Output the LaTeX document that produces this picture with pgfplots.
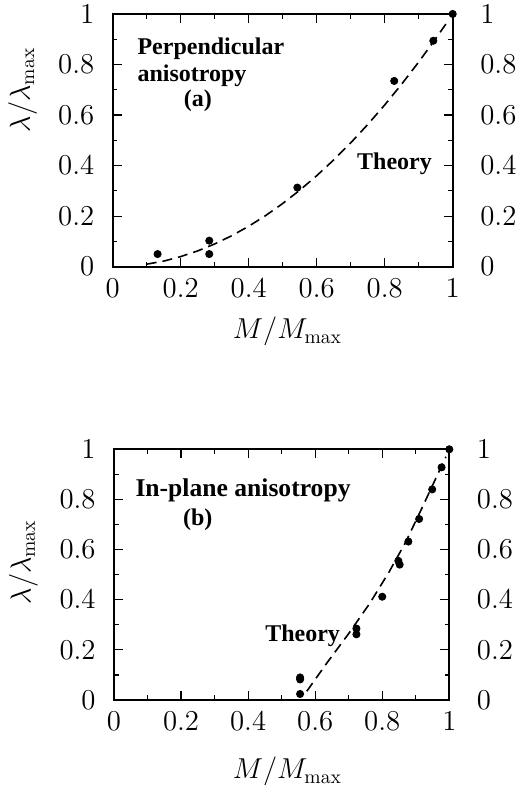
\documentclass[border=0pt]{standalone}
\usepackage{pgfplots}
\pgfplotsset{compat=1.18}
\usepackage{fontspec}
\newfontfamily\timesfont{Liberation Serif}
\tikzset{txt/.style={font=\timesfont\bfseries\fontsize{12}{14}\selectfont, inner sep=0pt}}
\begin{document}
\begin{tikzpicture}
\useasboundingbox (0,0) rectangle (260pt,395.5pt);
\pgfplotsset{
  panel/.style={
    scale only axis, xmin=0, xmax=1, ymin=0, ymax=1,
    xtick={0,0.2,0.4,0.6,0.8,1}, ytick={0,0.2,0.4,0.6,0.8,1},
    minor x tick num=1, minor y tick num=1,
    tick align=inside, major tick length=4.5pt, minor tick length=2.3pt,
    axis line style={line width=0.9pt},
    every tick/.style={black, line width=0.6pt},
    ticklabel style={font=\fontsize{14}{16}\selectfont},
    xticklabel style={yshift=-2.5pt},
    clip=false,
  },
  leftpanel/.style={panel,
    yticklabel style={xshift=-5.7pt},
    ylabel={$\lambda/\lambda_{\mathrm{max}}$},
    label style={font=\fontsize{14}{16}\selectfont},
    xlabel={$M/M_{\mathrm{max}}$},
  },
  rightpanel/.style={panel,
    yticklabel pos=right,
    xticklabels={},
    yticklabel style={xshift=10.3pt},
  },
  theory/.style={black, line width=0.8pt, dash pattern=on 5pt off 3pt, mark=none},
  pts/.style={only marks, mark=*, mark size=1.8pt, black},
}
% ---------- Panel (a) ----------
\begin{axis}[leftpanel, at={(56.35pt,262.15pt)}, anchor=south west,
  width=170pt, height=126.35pt,
  ylabel style={at={(axis description cs:-0.265,0.70)}, anchor=center},
  xlabel style={at={(axis description cs:0.514,-0.257)}, anchor=center}]
\addplot[theory] coordinates {(0.10,0.01) (0.15,0.022) (0.2,0.04) (0.25,0.0625) (0.3,0.09) (0.35,0.1225) (0.4,0.16) (0.45,0.2025) (0.5,0.25) (0.55,0.3025) (0.6,0.36) (0.65,0.4225) (0.7,0.49) (0.75,0.5625) (0.8,0.64) (0.85,0.7225) (0.9,0.81) (0.95,0.9025) (0.985,0.97)};
\addplot[pts] coordinates {(0.132,0.05) (0.284,0.103) (0.284,0.05) (0.543,0.313) (0.828,0.735) (0.943,0.894) (1.0,1.0)};
\node[txt, anchor=base west] at (axis cs:0.072,0.840) {Perpendicular};
\node[txt, anchor=base west] at (axis cs:0.072,0.732) {anisotropy};
\node[txt, anchor=base west] at (axis cs:0.208,0.633) {(a)};
\node[txt, anchor=base west] at (axis cs:0.718,0.383) {Theory};
\end{axis}
\begin{axis}[rightpanel, at={(56.35pt,262.15pt)}, anchor=south west,
  width=170pt, height=126.35pt]
\end{axis}
% ---------- Panel (b) ----------
\begin{axis}[leftpanel, at={(57pt,45.5pt)}, anchor=south west,
  width=167.65pt, height=125.35pt,
  ylabel style={at={(axis description cs:-0.27,0.55)}, anchor=center},
  xlabel style={at={(axis description cs:0.517,-0.286)}, anchor=center}]
\addplot[theory] coordinates {(0.575,0.035) (0.634,0.146) (0.70,0.265) (0.763,0.386) (0.82,0.51) (0.87,0.63) (0.92,0.77) (0.967,0.905) (0.99,0.97)};
\addplot[pts] coordinates {(0.555,0.09) (0.555,0.082) (0.555,0.024) (0.723,0.285) (0.723,0.262) (0.80,0.412) (0.848,0.555) (0.852,0.54) (0.878,0.632) (0.910,0.722) (0.949,0.840) (0.977,0.928) (1.0,1.0)};
\node[txt, anchor=base west, font=\timesfont\bfseries\fontsize{12.8}{15}\selectfont] at (axis cs:0.063,0.811) {In-plane anisotropy};
\node[txt, anchor=base west] at (axis cs:0.205,0.698) {(b)};
\node[txt, anchor=base west] at (axis cs:0.450,0.233) {Theory};
\end{axis}
\begin{axis}[rightpanel, at={(57pt,45.5pt)}, anchor=south west,
  width=167.65pt, height=125.35pt]
\end{axis}
\end{tikzpicture}
\end{document}
